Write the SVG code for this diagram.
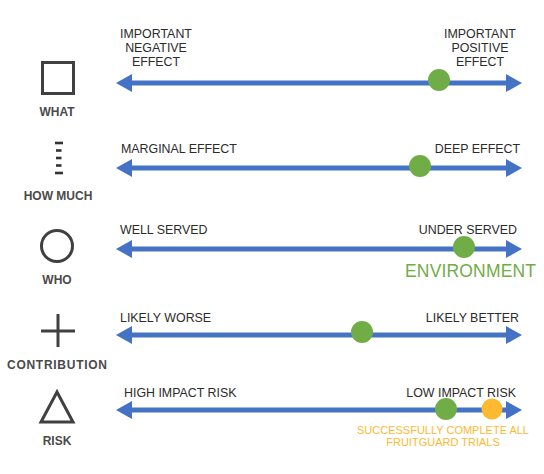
<svg xmlns="http://www.w3.org/2000/svg" width="544" height="474" viewBox="0 0 544 474">
<defs>
<style>
.lbl{font-family:"Liberation Sans",Arial,sans-serif;font-size:12.4px;fill:#2b2b2b}
.cat{font-family:"Liberation Sans",Arial,sans-serif;font-size:12px;font-weight:bold;fill:#4a4a4a;text-anchor:middle}
.icon{fill:none;stroke:#404040;stroke-width:3}
.axis{stroke:#4472C4;stroke-width:5;fill:none}
.head{fill:#4472C4}
.g{fill:#70AD47}
.o{fill:#FDB932}
.env{font-family:"Liberation Sans",Arial,sans-serif;font-size:17.5px;fill:#70AD47}
.note{font-family:"Liberation Sans",Arial,sans-serif;font-size:11px;fill:#FDB932;text-anchor:middle}
</style>
<g id="arr">
<line class="axis" x1="128" y1="0" x2="510" y2="0"/>
<polygon class="head" points="116,0 132,-9 132,9"/>
<polygon class="head" points="522,0 506,-9 506,9"/>
</g>
</defs>
<rect width="544" height="474" fill="#fff"/>
<g id="connectors">
<use href="#arr" y="83"/>
<use href="#arr" y="168"/>
<use href="#arr" y="249"/>
<use href="#arr" y="335"/>
<use href="#arr" y="410"/>
</g>
<g id="what">
<rect class="icon" x="42.5" y="62.5" width="31" height="31"/>
<text class="cat" x="57" y="116">WHAT</text>
<text class="lbl" text-anchor="middle"><tspan x="156" y="38">IMPORTANT</tspan><tspan x="156" y="52">NEGATIVE</tspan><tspan x="156" y="66">EFFECT</tspan></text>
<text class="lbl" text-anchor="middle"><tspan x="480" y="38">IMPORTANT</tspan><tspan x="480" y="52">POSITIVE</tspan><tspan x="480" y="66">EFFECT</tspan></text>
<circle class="g" cx="439" cy="80" r="11"/>
</g>
<g id="howmuch">
<g stroke="#333" stroke-width="2.6">
<line x1="55" y1="143" x2="63" y2="143"/>
<line x1="56" y1="150.5" x2="61.5" y2="150.5"/>
<line x1="56" y1="158" x2="61.5" y2="158"/>
<line x1="56" y1="165.5" x2="61.5" y2="165.5"/>
<line x1="55" y1="173" x2="63" y2="173"/>
</g>
<text class="cat" x="58" y="200">HOW MUCH</text>
<text class="lbl" x="121" y="153">MARGINAL EFFECT</text>
<text class="lbl" x="520" y="153" text-anchor="end">DEEP EFFECT</text>
<circle class="g" cx="420" cy="166" r="11"/>
</g>
<g id="who">
<circle class="icon" cx="57" cy="246" r="15.5"/>
<text class="cat" x="57" y="284">WHO</text>
<text class="lbl" x="120" y="234">WELL SERVED</text>
<text class="lbl" x="517" y="234" text-anchor="end">UNDER SERVED</text>
<circle class="g" cx="464" cy="247" r="11"/>
<text class="env" x="536" y="277" text-anchor="end" textLength="131">ENVIRONMENT</text>
</g>
<g id="contribution">
<line class="icon" x1="41" y1="331" x2="75" y2="331"/>
<line class="icon" x1="58" y1="314" x2="58" y2="347"/>
<text class="cat" x="57" y="369" textLength="100">CONTRIBUTION</text>
<text class="lbl" x="120" y="322">LIKELY WORSE</text>
<text class="lbl" x="519" y="322" text-anchor="end">LIKELY BETTER</text>
<circle class="g" cx="362" cy="332" r="11"/>
</g>
<g id="risk">
<polygon class="icon" points="57,392 41,422 73,422" stroke-linejoin="miter"/>
<text class="cat" x="57" y="445">RISK</text>
<text class="lbl" x="124" y="397">HIGH IMPACT RISK</text>
<text class="lbl" x="516" y="397" text-anchor="end">LOW IMPACT RISK</text>
<circle class="g" cx="446" cy="409" r="11"/>
<circle class="o" cx="492" cy="409" r="10.5"/>
<text class="note"><tspan x="443" y="434">SUCCESSFULLY COMPLETE ALL</tspan><tspan x="443" y="446">FRUITGUARD TRIALS</tspan></text>
</g>
</svg>
